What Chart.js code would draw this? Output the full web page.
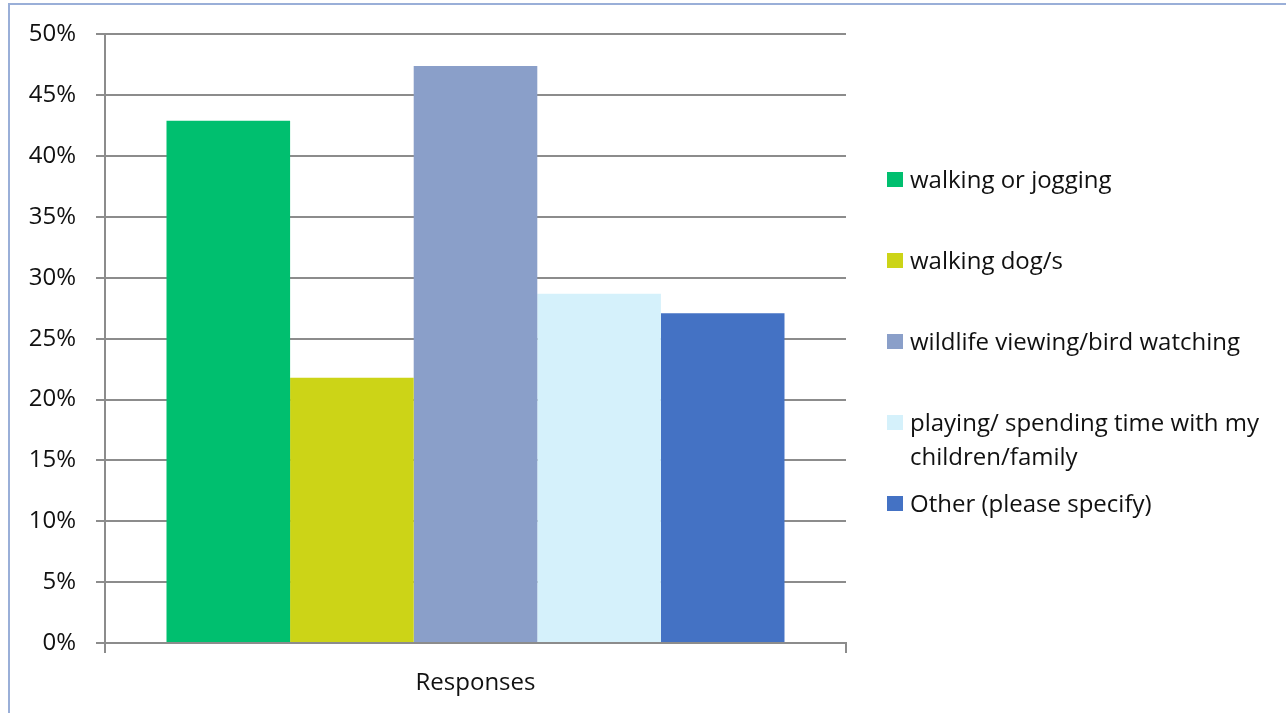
<!DOCTYPE html>
<html lang="en">
<head>
    <meta charset="UTF-8">
    <script src="https://cdn.jsdelivr.net/npm/chart.js@4.4.0/dist/chart.umd.min.js"></script>
    <title>Responses</title>
    <style>
        html, body { margin: 0; padding: 0; background: #fff; overflow: hidden; }
        .wrapper { position: relative; width: 1286px; height: 713px; }
        .frame {
            position: absolute; left: 8px; top: 3px; right: -4px; bottom: -4px;
            border-left: 2px solid #9aafd8; border-top: 2px solid #9aafd8;
            pointer-events: none;
        }
        #legend {
            position: absolute; left: 887px; top: 162px; margin: 0; padding: 0;
            list-style: none; font-family: 'Open Sans', sans-serif; font-size: 24px;
            color: #111;
        }
        #legend li { position: relative; height: 81px; width: 390px; line-height: 34px; padding-left: 23px; box-sizing: border-box; }
        #legend li span { position: absolute; left: 0; top: 10px; width: 16px; height: 15px; }
    </style>
</head>
<body>
    <div class="wrapper">
        <canvas id="canvas" width="1286" height="713"></canvas>
        <div class="frame"></div>
        <ul id="legend"></ul>
    </div>
<script>
const categories = ['Responses'];
const seriesNames = [
    'walking or jogging',
    'walking dog/s',
    'wildlife viewing/bird watching',
    'playing/ spending time with my children/family',
    'Other (please specify)'
];
const seriesValues = [42.9, 21.8, 47.4, 28.7, 27.1];
const seriesColors = ['#00bf6f', '#ccd417', '#8a9fc9', '#d5f1fb', '#4472c4'];
const yTicks = [0, 5, 10, 15, 20, 25, 30, 35, 40, 45, 50];

const gridColor = '#8c8c8c';
const font = { family: "'Open Sans', sans-serif", size: 24 };

const ctx = document.getElementById('canvas');
const chart = new Chart(ctx, {
    type: 'bar',
    data: {
        labels: categories,
        datasets: seriesNames.map((name, i) => ({
            label: name,
            data: [seriesValues[i]],
            backgroundColor: seriesColors[i],
            borderWidth: 0,
            categoryPercentage: 0.834,
            barPercentage: 1
        }))
    },
    options: {
        responsive: false,
        animation: false,
        layout: { padding: { top: 26, right: 440, left: 0, bottom: 0 } },
        plugins: { legend: { display: false }, tooltip: { enabled: false } },
        scales: {
            x: {
                grid: { drawOnChartArea: false, color: gridColor, lineWidth: 2, tickLength: 10 },
                border: { color: gridColor, width: 2 },
                ticks: { color: '#111', font: font, padding: 16 },
                afterFit: s => { s.height = 70; }
            },
            y: {
                min: 0, max: 50,
                afterBuildTicks: s => { s.ticks = yTicks.map(v => ({ value: v })); },
                grid: { color: gridColor, lineWidth: 2, tickLength: 9 },
                border: { color: gridColor, width: 2 },
                ticks: { color: '#111', font: font, padding: 20, callback: v => v + '%' },
                afterFit: s => { s.width = 105; }
            }
        }
    }
});

// legend list built from the datasets
const legend = document.getElementById('legend');
chart.data.datasets.forEach(ds => {
    const li = document.createElement('li');
    const box = document.createElement('span');
    box.style.background = ds.backgroundColor;
    li.appendChild(box);
    li.appendChild(document.createTextNode(ds.label));
    legend.appendChild(li);
});
</script>
</body>
</html>
